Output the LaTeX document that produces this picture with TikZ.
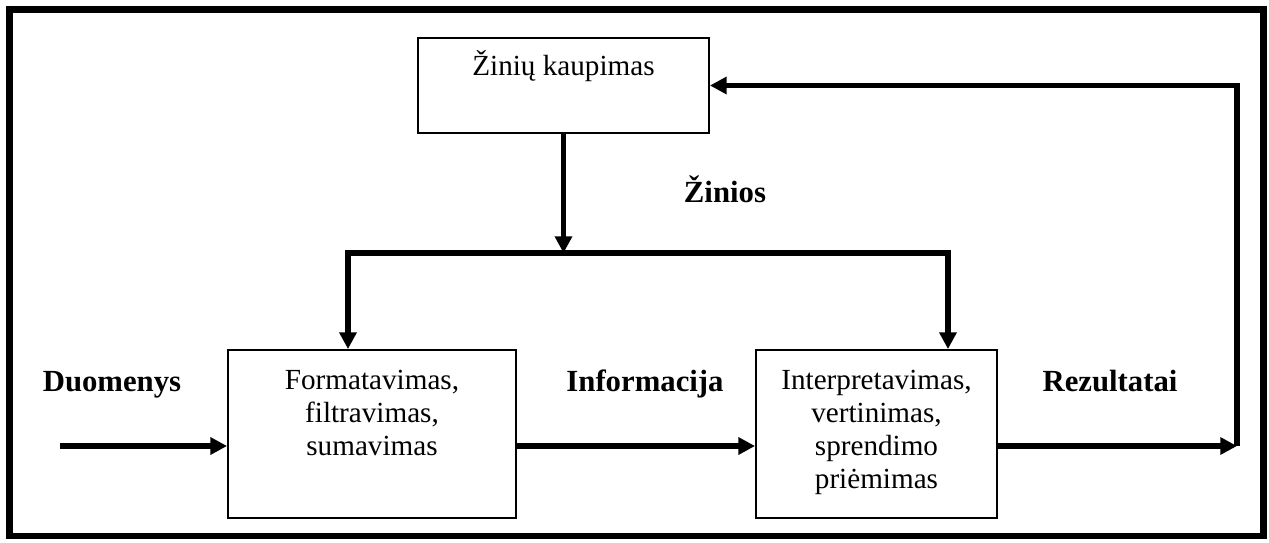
\documentclass[tikz,border=0pt]{standalone}
\usepackage{fontspec}
\setmainfont{Liberation Serif}
\usetikzlibrary{arrows.meta}

\begin{document}
\begin{tikzpicture}[x=0.02cm,y=-0.02cm,
    box/.style={draw,line width=1.1pt,inner sep=0pt},
    boxtext/.style={anchor=north,inner sep=0pt,align=center,
      font=\fontsize{16.6pt}{18.7pt}\selectfont},
    tag/.style={anchor=base,inner sep=0pt,
      font=\fontsize{17.5pt}{19pt}\selectfont\bfseries},
    pipe/.style={line width=2.9pt},
    flow/.style={pipe,-{Triangle[length=9.5pt,width=9.5pt]}}]
      \useasboundingbox (0,0) rectangle (1269,542);
      % Draw frame
      \draw [line width=3.7pt] (9.5,9.5) rectangle (1263.5,536);
      % Draw boxes
      \node [box,minimum width=5.82cm,minimum height=1.9cm] (kaup) at (563.5,85.5) {};
      \node [box,minimum width=5.76cm,minimum height=3.36cm] (form) at (372,434) {};
      \node [box,minimum width=4.82cm,minimum height=3.36cm] (interp) at (876.5,434) {};
      \node [boxtext] (kauptxt) at ([yshift=-0.26cm]kaup.north) {Žinių kaupimas};
      \node [boxtext] (formtxt) at ([yshift=-0.42cm]form.north)
      {Formatavimas,\\filtravimas,\\sumavimas};
      \node [boxtext] (interptxt) at ([yshift=-0.42cm]interp.north)
      {Interpretavimas,\\vertinimas,\\sprendimo\\priėmimas};
      % Draw labels
      \node [tag] (duom) at (112,391) {Duomenys};
      \node [tag] (info) at (645,391) {Informacija};
      \node [tag] (rez) at (1110,391) {Rezultatai};
      \node [tag] (zin) at (725,202) {Žinios};
      % Draw main flow
      \coordinate (in) at (60,446);
      \coordinate (out) at (1237,446);
      \draw [flow] (in) -- (in -| form.west);
      \draw [flow] (in -| form.east) -- (in -| interp.west);
      \draw [flow] (in -| interp.east) -- (out);
      % Draw feedback
      \draw [flow] (out) |- (kaup.east);
      % Draw knowledge split
      \coordinate (split) at (563.5,253);
      \coordinate (lsplit) at (348,253);
      \coordinate (rsplit) at (948,253);
      \draw [flow] (kaup.south) -- (split);
      \draw [flow] (split) -| (lsplit |- form.north);
      \draw [flow] (split) -| (rsplit |- interp.north);
    \end{tikzpicture}
\end{document}
